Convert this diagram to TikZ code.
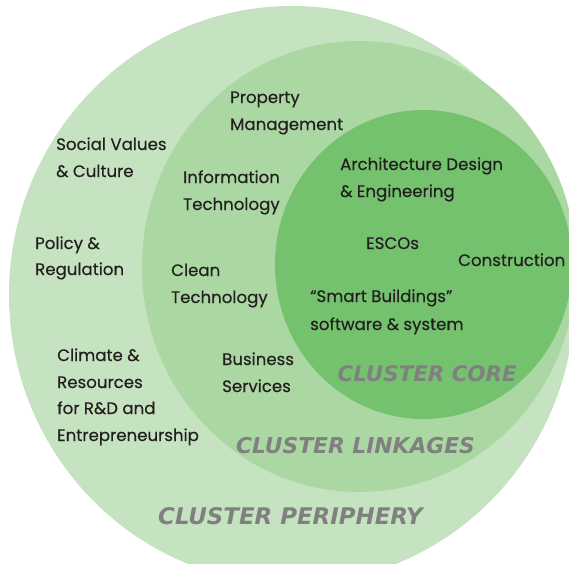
\documentclass[tikz,border=0pt]{standalone}
\usepackage{fontspec}
\setmainfont{Poppins}
\newfontfamily\tagfont{DejaVu Sans}
\definecolor{periphery}{RGB}{197,227,192}
\definecolor{linkage}{RGB}{171,215,163}
\definecolor{core}{RGB}{116,194,110}
\definecolor{ink}{RGB}{35,31,32}
\definecolor{taggray}{RGB}{128,128,128}
\tikzset{
  item/.style={anchor=base west, inner sep=0pt, text=ink,
    font=\fontsize{16.6}{16.6}\selectfont\addfontfeature{FakeBold=0.35}},
  tag/.style={anchor=base west, inner sep=0pt, text=taggray},
}
\begin{document}
\begin{tikzpicture}[x=1pt,y=-1pt]
  \useasboundingbox (0,0) rectangle (569,563);
  \begin{scope}
    \clip (0,0) rectangle (569,563);
    % nested cluster rings
    \fill[periphery] (292,295) ellipse [x radius=283pt, y radius=289pt];
    \fill[linkage]   (359,266.5) ellipse [x radius=217pt, y radius=225.5pt];
    \fill[core]      (423.5,264.5) ellipse [x radius=148.5pt, y radius=154.5pt];
  \end{scope}

  % periphery
  \node[item] (soc1) at (56,150) {Social Values};
  \node[item] (soc2) at (56,177) {\& Culture};
  \node[item] (pol1) at (35,249) {Policy \&};
  \node[item] (pol2) at (35,275) {Regulation};
  \node[item] (cli1) at (57,361) {Climate \&};
  \node[item] (cli2) at (57,388) {Resources};
  \node[item] (cli3) at (57,414) {for R\&D and};
  \node[item] (cli4) at (57,441) {Entrepreneurship};

  % linkages
  \node[item] (prop1) at (230,103) {Property};
  \node[item] (prop2) at (230,130) {Management};
  \node[item] (inf1) at (183,183) {Information};
  \node[item] (inf2) at (183,210) {Technology};
  \node[item] (cln1) at (171,276) {Clean};
  \node[item] (cln2) at (171,303) {Technology};
  \node[item] (bus1) at (222,365) {Business};
  \node[item] (bus2) at (222,392) {Services};

  % core
  \node[item] (arc1) at (340,170) {Architecture Design};
  \node[item] (arc2) at (340,197) {\& Engineering};
  \node[item] (esco) at (366,249) {ESCOs};
  \node[item] (cons) at (458,266) {Construction};
  \node[item] (smb1) at (310,302) {“Smart Buildings”};
  \node[item] (smb2) at (310,330) {software \& system};

  % ring captions
  \node[tag, font=\tagfont\bfseries\itshape\fontsize{21.4}{21.4}\selectfont]
    (tcore) at (337.5,381) {CLUSTER CORE};
  \node[tag, font=\tagfont\bfseries\itshape\fontsize{21.8}{21.8}\selectfont]
    (tlink) at (236,453.5) {CLUSTER LINKAGES};
  \node[tag, font=\tagfont\bfseries\itshape\fontsize{22.9}{22.9}\selectfont]
    (tperi) at (158,524) {CLUSTER PERIPHERY};
\end{tikzpicture}
\end{document}
